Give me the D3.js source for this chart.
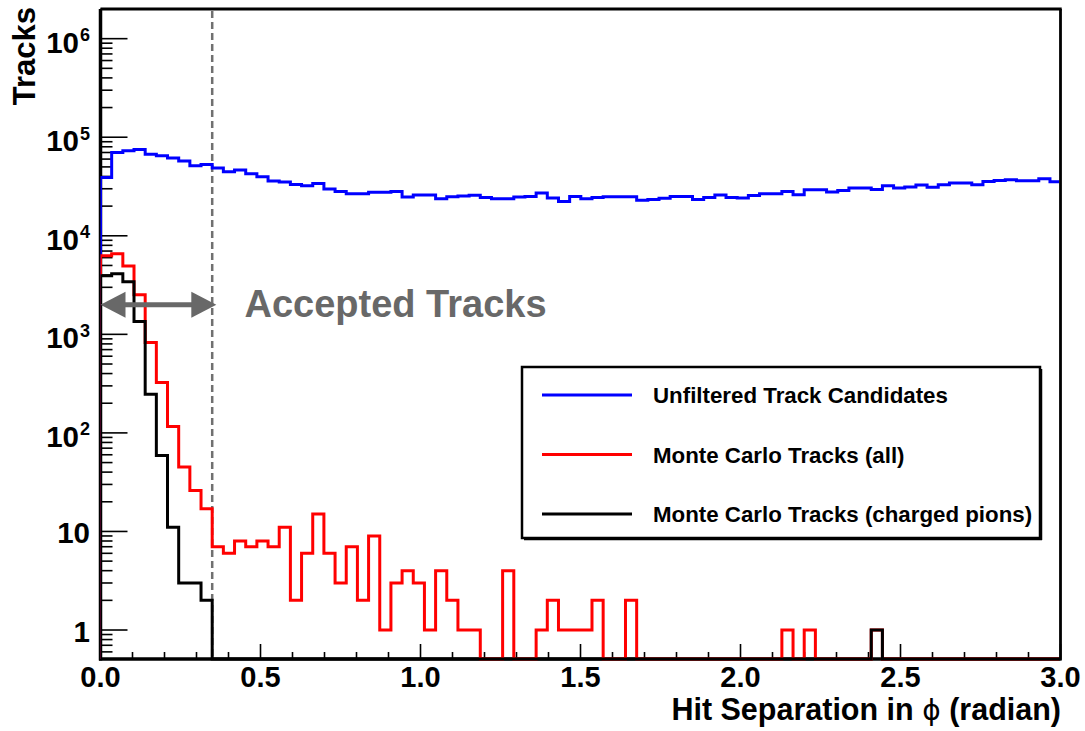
<!DOCTYPE html>
<html>
<head>
<meta charset="utf-8">
<script src="https://cdn.jsdelivr.net/npm/d3@7"></script>
<style>
  html, body { margin: 0; padding: 0; background: #fff; }
  svg { display: block; }
  text { font-family: "Liberation Sans", Arial, Helvetica, sans-serif; font-weight: bold; }
</style>
</head>
<body>
<svg id="chart" width="1085" height="731"></svg>
<script>
// ---------------- data ----------------
const binWidth = Math.PI / 90;            // 2 degree bins
const xTickLabels = ["0.0", "0.5", "1.0", "1.5", "2.0", "2.5", "3.0"];
const xTickValues = [0, 0.5, 1.0, 1.5, 2.0, 2.5, 3.0];
const yTickValues = [1, 10, 100, 1000, 10000, 100000, 1000000];
const yTickLabels = [["1", ""], ["10", ""], ["10", "2"], ["10", "3"], ["10", "4"], ["10", "5"], ["10", "6"]];
const seriesNames = ["Unfiltered Track Candidates", "Monte Carlo Tracks (all)", "Monte Carlo Tracks (charged pions)"];
const seriesColors = ["#0000ff", "#ff0000", "#000000"];

const unfiltered = [
  39000, 70000, 73000, 75000, 67000, 65000, 61500, 57300, 51400, 53000,
  48700, 44600, 46500, 42600, 39700, 35900, 35100, 33200, 32200, 34000,
  29800, 28200, 26700, 26700, 27700, 27700, 28200, 24700, 25900, 26000,
  23800, 24900, 25300, 25800, 24500, 23800, 23800, 24700, 25100, 27100,
  24200, 22300, 25100, 23800, 24500, 24900, 24900, 24900, 22900, 23400,
  24000, 25100, 25100, 23400, 24400, 26000, 24500, 24200, 25700, 26700,
  26700, 28200, 26100, 29300, 29300, 27800, 28800, 30500, 30500, 29500,
  32200, 30500, 31200, 32700, 31000, 33000, 34300, 34300, 33000, 35600,
  36400, 37000, 36200, 36200, 37900, 35300
];
const mcAll = [
  6270, 6570, 4950, 2520, 826, 324, 116, 45, 26, 17,
  7, 6, 8, 7, 8, 7, 11, 2, 6, 15,
  6, 3, 7, 2, 9, 1, 3, 4, 3, 1,
  4, 2, 1, 1, 0, 0, 4, 0, 0, 1,
  2, 1, 1, 1, 2, 0, 0, 2, 0, 0,
  0, 0, 0, 0, 0, 0, 0, 0, 0, 0,
  0, 1, 0, 1, 0, 0, 0, 0, 0, 1,
  0, 0, 0, 0, 0, 0, 0, 0, 0, 0,
  0, 0, 0, 0, 0, 0
];
const mcPions = [
  3930, 4110, 3410, 1350, 247, 59, 11, 3, 3, 2,
  0, 0, 0, 0, 0, 0, 0, 0, 0, 0,
  0, 0, 0, 0, 0, 0, 0, 0, 0, 0,
  0, 0, 0, 0, 0, 0, 0, 0, 0, 0,
  0, 0, 0, 0, 0, 0, 0, 0, 0, 0,
  0, 0, 0, 0, 0, 0, 0, 0, 0, 0,
  0, 0, 0, 0, 0, 0, 0, 0, 0, 1,
  0, 0, 0, 0, 0, 0, 0, 0, 0, 0,
  0, 0, 0, 0, 0, 0
];
const cutValue = 10 * binWidth;           // accepted-track cut (20 degrees)
const arrowLevel = 2000;
const annotation = "Accepted Tracks";

// ---------------- layout ----------------
const svg = d3.select("#chart");
const L = 100.5, R = 1060.5, T = 9, B = 659;
const x = d3.scaleLinear().domain([0, 3.0]).range([L, R]);
const y = d3.scaleLog().domain([0.508, 2.0e6]).range([B, T]);

svg.append("defs").append("clipPath").attr("id", "plotclip")
  .append("rect").attr("x", L).attr("y", T).attr("width", R - L - 1.5).attr("height", B - T + 2);

// y ticks (inside)
const yMinor = [];
for (let e = -1; e <= 6; e++) for (let k = 1; k <= 9; k++) {
  const v = k * Math.pow(10, e);
  if (v >= 0.508 && v <= 2.0e6) yMinor.push({v, major: k === 1});
}
svg.append("g").selectAll("line").data(yMinor).join("line")
  .attr("x1", L).attr("x2", d => L + (d.major ? 27 : 12))
  .attr("y1", d => y(d.v)).attr("y2", d => y(d.v))
  .attr("stroke", "#000").attr("stroke-width", 1.6);

// x ticks (inside)
const xMinor = d3.range(0, 31).map(i => ({v: i / 10, major: i % 5 === 0}));
svg.append("g").selectAll("line").data(xMinor).join("line")
  .attr("x1", d => x(d.v)).attr("x2", d => x(d.v))
  .attr("y1", B).attr("y2", d => B - (d.major ? 15 : 7))
  .attr("stroke", "#000").attr("stroke-width", 1.6);

// axis lines
svg.append("line").attr("x1", L).attr("x2", L).attr("y1", T).attr("y2", B + 1.5)
  .attr("stroke", "#000").attr("stroke-width", 3.5);
svg.append("line").attr("x1", L - 1.5).attr("x2", R).attr("y1", B).attr("y2", B)
  .attr("stroke", "#000").attr("stroke-width", 3.5);

// x tick labels
svg.append("g").selectAll("text").data(xTickValues).join("text")
  .attr("x", d => x(d)).attr("y", 687).attr("text-anchor", "middle")
  .attr("font-size", 29).text((d, i) => xTickLabels[i]);

// y tick labels
const yl = svg.append("g").selectAll("text").data(yTickValues).join("text")
  .attr("x", 90).attr("y", (d, i) => y(d) + (yTickLabels[i][1] ? 14 : 12))
  .attr("text-anchor", "end").attr("font-size", 29.5);
yl.append("tspan").text((d, i) => yTickLabels[i][0]);
yl.append("tspan").attr("font-size", 18).attr("dy", -11.5).attr("dx", 1)
  .text((d, i) => yTickLabels[i][1]);

// axis titles
svg.append("text").attr("transform", "translate(34.5,7) rotate(-90)")
  .attr("text-anchor", "end").attr("font-size", 31).text("Tracks");
const xt = svg.append("text").attr("x", 1061).attr("y", 720)
  .attr("text-anchor", "end").attr("font-size", 30.5);
xt.append("tspan").text("Hit Separation in ");
xt.append("tspan").attr("font-family", "'DejaVu Sans', sans-serif").attr("font-weight", "normal")
  .attr("font-size", 28).text("\u03D5");
xt.append("tspan").text(" (radian)");

// cut line
svg.append("line").attr("x1", x(cutValue)).attr("x2", x(cutValue)).attr("y1", T + 2).attr("y2", B)
  .attr("stroke", "#707070").attr("stroke-width", 2.5).attr("stroke-dasharray", "7,4");

// histograms
function stepPoints(vals) {
  const pts = [[0, null]];
  vals.forEach((v, i) => { pts.push([i * binWidth, v]); pts.push([(i + 1) * binWidth, v]); });
  pts.push([vals.length * binWidth, null]);
  return pts;
}
const line = d3.line()
  .x(d => x(d[0]))
  .y(d => (d[1] && d[1] > 0) ? y(d[1]) : B);
const hg = svg.append("g").attr("clip-path", "url(#plotclip)");
[unfiltered, mcAll, mcPions].forEach((vals, k) => {
  hg.append("path").attr("d", line(stepPoints(vals)))
    .attr("fill", "none").attr("stroke", seriesColors[k]).attr("stroke-width", 3)
    .attr("stroke-linejoin", "miter");
});

// top / right frame lines on top
svg.append("line").attr("x1", L).attr("x2", R + 1.2).attr("y1", T).attr("y2", T)
  .attr("stroke", "#000").attr("stroke-width", 2.8);
svg.append("line").attr("x1", R).attr("x2", R).attr("y1", T).attr("y2", B + 1.5)
  .attr("stroke", "#000").attr("stroke-width", 2.8);

// accepted-track arrow
const ay = y(arrowLevel);
const ax0 = x(0), ax1 = x(0.362);
const gray = "#686868";
svg.append("line").attr("x1", ax0 + 20).attr("x2", ax1 - 20).attr("y1", ay).attr("y2", ay)
  .attr("stroke", gray).attr("stroke-width", 5);
svg.append("path").attr("d", `M${ax0},${ay}L${ax0 + 25},${ay - 13}L${ax0 + 25},${ay + 13}Z`).attr("fill", gray);
svg.append("path").attr("d", `M${ax1},${ay}L${ax1 - 25},${ay - 13}L${ax1 - 25},${ay + 13}Z`).attr("fill", gray);
svg.append("text").attr("x", x(0.45)).attr("y", y(1510)).attr("font-size", 38)
  .attr("fill", gray).text(annotation);

// legend
const lg = svg.append("g");
lg.append("rect").attr("x", 522).attr("y", 367).attr("width", 518).attr("height", 171)
  .attr("fill", "#fff").attr("stroke", "#000").attr("stroke-width", 2.5);
lg.append("line").attr("x1", 524).attr("x2", 1042).attr("y1", 539.5).attr("y2", 539.5)
  .attr("stroke", "#000").attr("stroke-width", 1.5);
lg.append("line").attr("x1", 1041.5).attr("x2", 1041.5).attr("y1", 369).attr("y2", 540)
  .attr("stroke", "#000").attr("stroke-width", 1.5);
seriesNames.forEach((name, i) => {
  const ly = 395 + i * 59.5;
  lg.append("line").attr("x1", 542).attr("x2", 632).attr("y1", ly).attr("y2", ly)
    .attr("stroke", seriesColors[i]).attr("stroke-width", 3);
  lg.append("text").attr("x", 653).attr("y", ly + 8).attr("font-size", 22.3).text(name);
});
</script>
</body>
</html>
